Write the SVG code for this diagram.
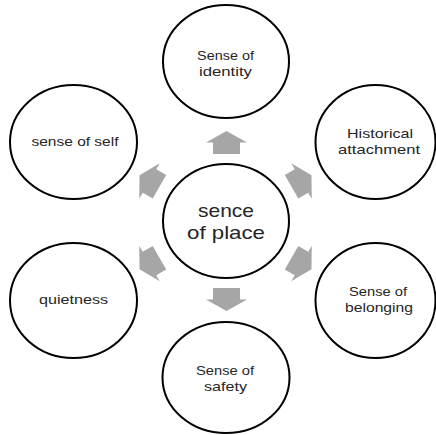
<svg xmlns="http://www.w3.org/2000/svg" width="436" height="435" viewBox="0 0 436 435">
<defs>
<style>
.node ellipse{fill:#fff;stroke:#000;stroke-width:2}
.node text{font-family:"Liberation Sans",Arial,sans-serif;font-size:13px;fill:#262626;text-anchor:middle}
#center text{font-size:19px}
.arr{fill:#a6a6a6}
</style>
<polygon id="arrow" points="-11.5,-13.5 0,-13.5 0,-20.5 11.5,0 0,20.5 0,13.5 -11.5,13.5"/>
</defs>
<rect width="436" height="435" fill="#fff"/>
<g id="connectors" class="arr">
<use href="#arrow" transform="translate(226.5,142.5) rotate(-90)"/>
<use href="#arrow" transform="translate(226.5,299.5) rotate(90)"/>
<use href="#arrow" transform="translate(301.5,181) rotate(-30)"/>
<use href="#arrow" transform="translate(149.5,181) rotate(-150)"/>
<use href="#arrow" transform="translate(301.5,263.5) rotate(30)"/>
<use href="#arrow" transform="translate(149.5,263.5) rotate(150)"/>
</g>
<g id="center" class="node">
<ellipse cx="226" cy="221" rx="63" ry="57"/>
<text x="226" y="217" textLength="56" lengthAdjust="spacingAndGlyphs">sence</text>
<text x="226" y="239" textLength="78" lengthAdjust="spacingAndGlyphs">of place</text>
</g>
<g id="identity" class="node">
<ellipse cx="226" cy="61.5" rx="63" ry="56.5"/>
<text x="225.5" y="60" textLength="57" lengthAdjust="spacingAndGlyphs">Sense of</text>
<text x="225.5" y="76" textLength="53" lengthAdjust="spacingAndGlyphs">identity</text>
</g>
<g id="self" class="node">
<ellipse cx="73.5" cy="142" rx="63.5" ry="57"/>
<text x="75" y="146" textLength="87" lengthAdjust="spacingAndGlyphs">sense of self</text>
</g>
<g id="historical" class="node">
<ellipse cx="375.5" cy="142" rx="60" ry="57"/>
<text x="380" y="138" textLength="66" lengthAdjust="spacingAndGlyphs">Historical</text>
<text x="379" y="154" textLength="82" lengthAdjust="spacingAndGlyphs">attachment</text>
</g>
<g id="quietness" class="node">
<ellipse cx="73.5" cy="300.5" rx="63.5" ry="57.5"/>
<text x="73.5" y="304" textLength="69" lengthAdjust="spacingAndGlyphs">quietness</text>
</g>
<g id="belonging" class="node">
<ellipse cx="375.5" cy="300.5" rx="60" ry="57.5"/>
<text x="378" y="296" textLength="58" lengthAdjust="spacingAndGlyphs">Sense of</text>
<text x="379" y="312" textLength="68" lengthAdjust="spacingAndGlyphs">belonging</text>
</g>
<g id="safety" class="node">
<ellipse cx="226" cy="377.5" rx="63.5" ry="55.5"/>
<text x="225" y="375" textLength="58" lengthAdjust="spacingAndGlyphs">Sense of</text>
<text x="225.5" y="391" textLength="43" lengthAdjust="spacingAndGlyphs">safety</text>
</g>
</svg>
